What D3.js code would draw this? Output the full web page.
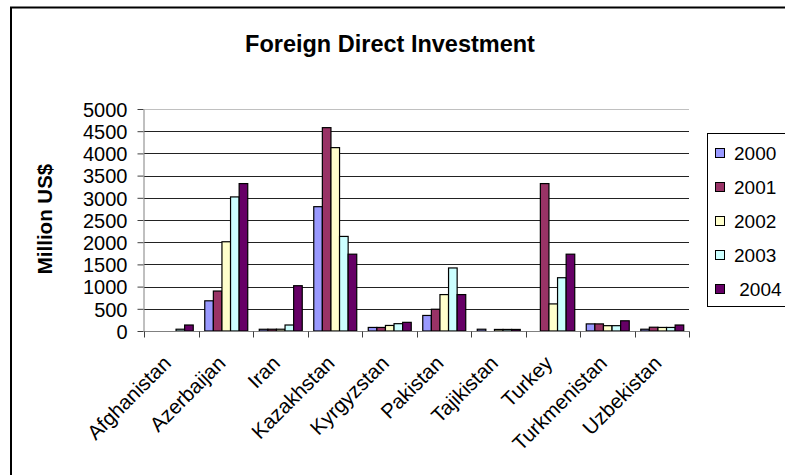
<!DOCTYPE html>
<html>
<head>
<meta charset="utf-8">
<script src="https://cdn.jsdelivr.net/npm/d3@7"></script>
<style>
  body { margin: 0; background: #fff; }
  text { font-family: Arial, "Liberation Sans", sans-serif; fill: #000; }
</style>
</head>
<body>
<svg id="chart" width="785" height="475"></svg>
<script>
// data (million US$)
let countries = ['Afghanistan', 'Azerbaijan', 'Iran', 'Kazakhstan', 'Kyrgyzstan',
  'Pakistan', 'Tajikistan', 'Turkey', 'Turkmenistan', 'Uzbekistan']
let years = ['2000', '2001', '2002', '2003', '2004']
let fdi2000 = [0, 680, 39, 2800, 80, 350, 40, 0, 160, 40]
let fdi2001 = [0, 900, 40, 4580, 80, 490, 0, 3320, 160, 85]
let fdi2002 = [0, 2010, 40, 4130, 125, 820, 35, 610, 120, 80]
let fdi2003 = [40, 3020, 135, 2130, 165, 1420, 35, 1200, 120, 80]
let fdi2004 = [135, 3320, 1020, 1730, 195, 820, 35, 1730, 230, 135]
let yTicks = [0, 500, 1000, 1500, 2000, 2500, 3000, 3500, 4000, 4500, 5000]
let legendLabels = ['2000', '2001', '2002', '2003', '\u00a02004']
let colors = ['#9999FF', '#993366', '#FFFFCC', '#CCFFFF', '#660066']

let seriesValues = [fdi2000, fdi2001, fdi2002, fdi2003, fdi2004]
let rows = countries.map((c, i) => ({
  country: c,
  values: years.map((y, j) => ({ year: y, value: seriesValues[j][i] }))
}))

let svg = d3.select('#chart')

// outer chart frame
svg.append('rect')
  .attr('x', 11).attr('y', 7.5)
  .attr('width', 800).attr('height', 500)
  .attr('fill', 'none')
  .attr('stroke', '#000')
  .attr('stroke-width', 2)

let x0 = d3.scaleBand().domain(countries).range([144, 689])
let x1 = d3.scaleBand().domain(years).range([0, x0.bandwidth()]).paddingOuter(0.67)
let y = d3.scaleLinear().domain([0, 5000]).range([331, 109])
let color = d3.scaleOrdinal().domain(years).range(colors)

// gridlines
svg.append('g')
  .selectAll('line')
  .data(yTicks.filter(d => d > 0))
  .enter()
  .append('line')
  .attr('x1', 144).attr('x2', 689)
  .attr('y1', d => Math.round(y(d)) + 0.5)
  .attr('y2', d => Math.round(y(d)) + 0.5)
  .attr('stroke', d => d === 5000 ? '#c0c0c0' : '#222')
  .attr('stroke-width', 1)

// y axis
let yAxis = svg.append('g')
  .attr('transform', 'translate(143.5,0)')
  .call(d3.axisLeft(y).tickValues(yTicks).tickFormat(d3.format('d'))
    .tickSize(6).tickPadding(10).tickSizeOuter(0))
yAxis.select('.domain').attr('stroke', '#808080')
yAxis.selectAll('.tick line').attr('stroke', '#404040')
yAxis.selectAll('text').attr('font-size', '20px').attr('dy', '0.36em')

// bars
let groups = svg.append('g')
  .selectAll('.country')
  .data(rows)
  .enter()
  .append('g')
  .attr('class', 'country')
  .attr('transform', d => `translate(${x0(d.country)},0)`)

groups.selectAll('rect')
  .data(d => d.values.filter(v => v.value > 0))
  .enter()
  .append('rect')
  .attr('x', d => x1(d.year) + 0.5)
  .attr('y', d => y(d.value))
  .attr('width', x1.bandwidth())
  .attr('height', d => y(0) - y(d.value))
  .attr('fill', d => color(d.year))
  .attr('stroke', '#000')
  .attr('stroke-width', 1.2)

// x axis
let xAxis = svg.append('g')
  .attr('transform', 'translate(0,331.5)')
xAxis.append('line')
  .attr('x1', 143).attr('x2', 689.5)
  .attr('stroke', '#808080')
xAxis.selectAll('.xtick')
  .data(countries.concat(['end']))
  .enter()
  .append('line')
  .attr('x1', (d, i) => Math.round(x0.range()[0] + i * x0.step()) + 0.5)
  .attr('x2', (d, i) => Math.round(x0.range()[0] + i * x0.step()) + 0.5)
  .attr('y1', 0).attr('y2', 6)
  .attr('stroke', '#404040')

xAxis.selectAll('.xlabel')
  .data(countries)
  .enter()
  .append('text')
  .attr('text-anchor', 'end')
  .attr('font-size', '20.5px')
  .attr('transform', d => `translate(${x0(d) + x0.bandwidth() / 2 + 1},33) rotate(-45)`)
  .text(d => d)

// title
svg.append('text')
  .attr('x', 390).attr('y', 52)
  .attr('text-anchor', 'middle')
  .attr('font-size', '23.5px')
  .attr('font-weight', 'bold')
  .text('Foreign Direct Investment')

// y axis label
svg.append('text')
  .attr('transform', 'translate(52,219) rotate(-90)')
  .attr('text-anchor', 'middle')
  .attr('font-size', '20.5px')
  .attr('font-weight', 'bold')
  .text('Million US$')

// legend
let legend = svg.append('g')
legend.append('rect')
  .attr('x', 707.5).attr('y', 133.5)
  .attr('width', 100).attr('height', 173)
  .attr('fill', '#fff')
  .attr('stroke', '#000')

let items = legend.selectAll('.item')
  .data(years)
  .enter()
  .append('g')
  .attr('transform', (d, i) => `translate(0,${153 + i * 34})`)
items.append('rect')
  .attr('x', 715.5).attr('y', -4.5)
  .attr('width', 9).attr('height', 9)
  .attr('fill', d => color(d))
  .attr('stroke', '#000')
items.append('text')
  .attr('x', 734).attr('y', 7)
  .attr('font-size', '19px')
  .style('white-space', 'pre')
  .text((d, i) => legendLabels[i])
</script>
</body>
</html>
